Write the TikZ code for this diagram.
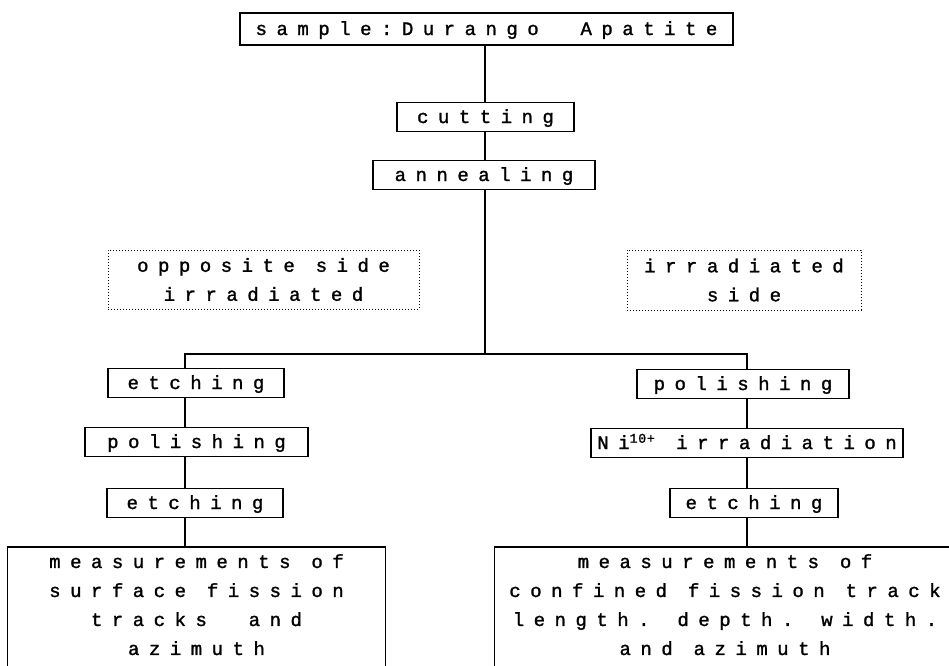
\documentclass[tikz,border=0pt]{standalone}
\usepackage{fontspec}
\newfontfamily\prtfont[LetterSpace=50,FakeBold=1.4]{Liberation Mono}
\usetikzlibrary{positioning}

\tikzset{
  every node/.style={font=\prtfont\fontsize{19}{29}\selectfont},
  stepbox/.style={draw,line width=1.3pt,inner xsep=0pt,inner ysep=0pt,
    minimum height=29pt,text height=14pt,text depth=2pt},
  notebox/.style={draw,dotted,line width=1pt,align=center,inner sep=0pt},
  resultbox/.style={align=center,inner xsep=0pt,inner ysep=7pt,anchor=north},
  link/.style={line width=1.3pt}
}

\begin{document}
\begin{tikzpicture}[x=1pt,y=-1pt]
  \useasboundingbox (0,0) rectangle (949,665);
  % main column
  \node[stepbox,minimum width=493pt,minimum height=32pt] (sample) at (486.5,29) {sample:Durango\ \ Apatite};
  \node[stepbox,minimum width=177pt] (cut) at (485.5,117) {cutting};
  \node[stepbox,minimum width=222pt] (anneal) at (484,175) {annealing};
  \coordinate (fork) at (485,354);
  \coordinate (colA) at (185,354);
  \coordinate (colB) at (747,354);
  \coordinate (bot) at (0,675);
  % side notes
  \node[notebox,minimum width=311pt,minimum height=59pt] (opp) at (263.5,279.5) {opposite side\\irradiated};
  \node[notebox,minimum width=234pt,minimum height=60pt] (irr) at (744,280) {irradiated\\side};
  % left branch
  \node[stepbox,minimum width=176pt] (etchA) at (196,383) {etching};
  \node[stepbox,minimum width=223pt] (polA) at (196.5,442) {polishing};
  \node[stepbox,minimum width=176pt] (etchB) at (195,503) {etching};
  \node[resultbox,minimum width=377pt] (measA) at (196.5,547) {measurements of\\surface fission\\tracks\ \ and\\azimuth};
  % right branch
  \node[stepbox,minimum width=212pt] (polB) at (743,384) {polishing};
  \node[stepbox,minimum width=312pt] (niB) at (747,443) {Ni\textsuperscript{\addfontfeature{LetterSpace=5}10+}\ irradiation};
  \node[stepbox,minimum width=168pt] (etchC) at (754,503) {etching};
  \node[resultbox,minimum width=460pt] (measB) at (725,547) {measurements of\\confined fission track\\length. depth. width.\\and azimuth};
  % connectors
  \draw[link] (sample.south -| fork) -- (cut.north -| fork);
  \draw[link] (cut.south -| fork) -- (anneal.north -| fork);
  \draw[link] (anneal.south -| fork) -- (fork);
  \draw[link] (colA |- etchA.north) |- (colB) -- (colB |- polB.north);
  \draw[link] (etchA.south -| colA) -- (polA.north -| colA);
  \draw[link] (polA.south -| colA) -- (etchB.north -| colA);
  \draw[link] (etchB.south -| colA) -- (measA.north -| colA);
  \draw[link] (polB.south -| colB) -- (niB.north -| colB);
  \draw[link] (niB.south -| colB) -- (etchC.north -| colB);
  \draw[link] (etchC.south -| colB) -- (measB.north -| colB);
  % open result frames
  \draw[link] (measA.north west |- bot) |- (measA.north east) -- (measA.north east |- bot);
  \draw[link] (measB.north west |- bot) |- (measB.north east) -- (measB.north east |- bot);
\end{tikzpicture}
\end{document}
